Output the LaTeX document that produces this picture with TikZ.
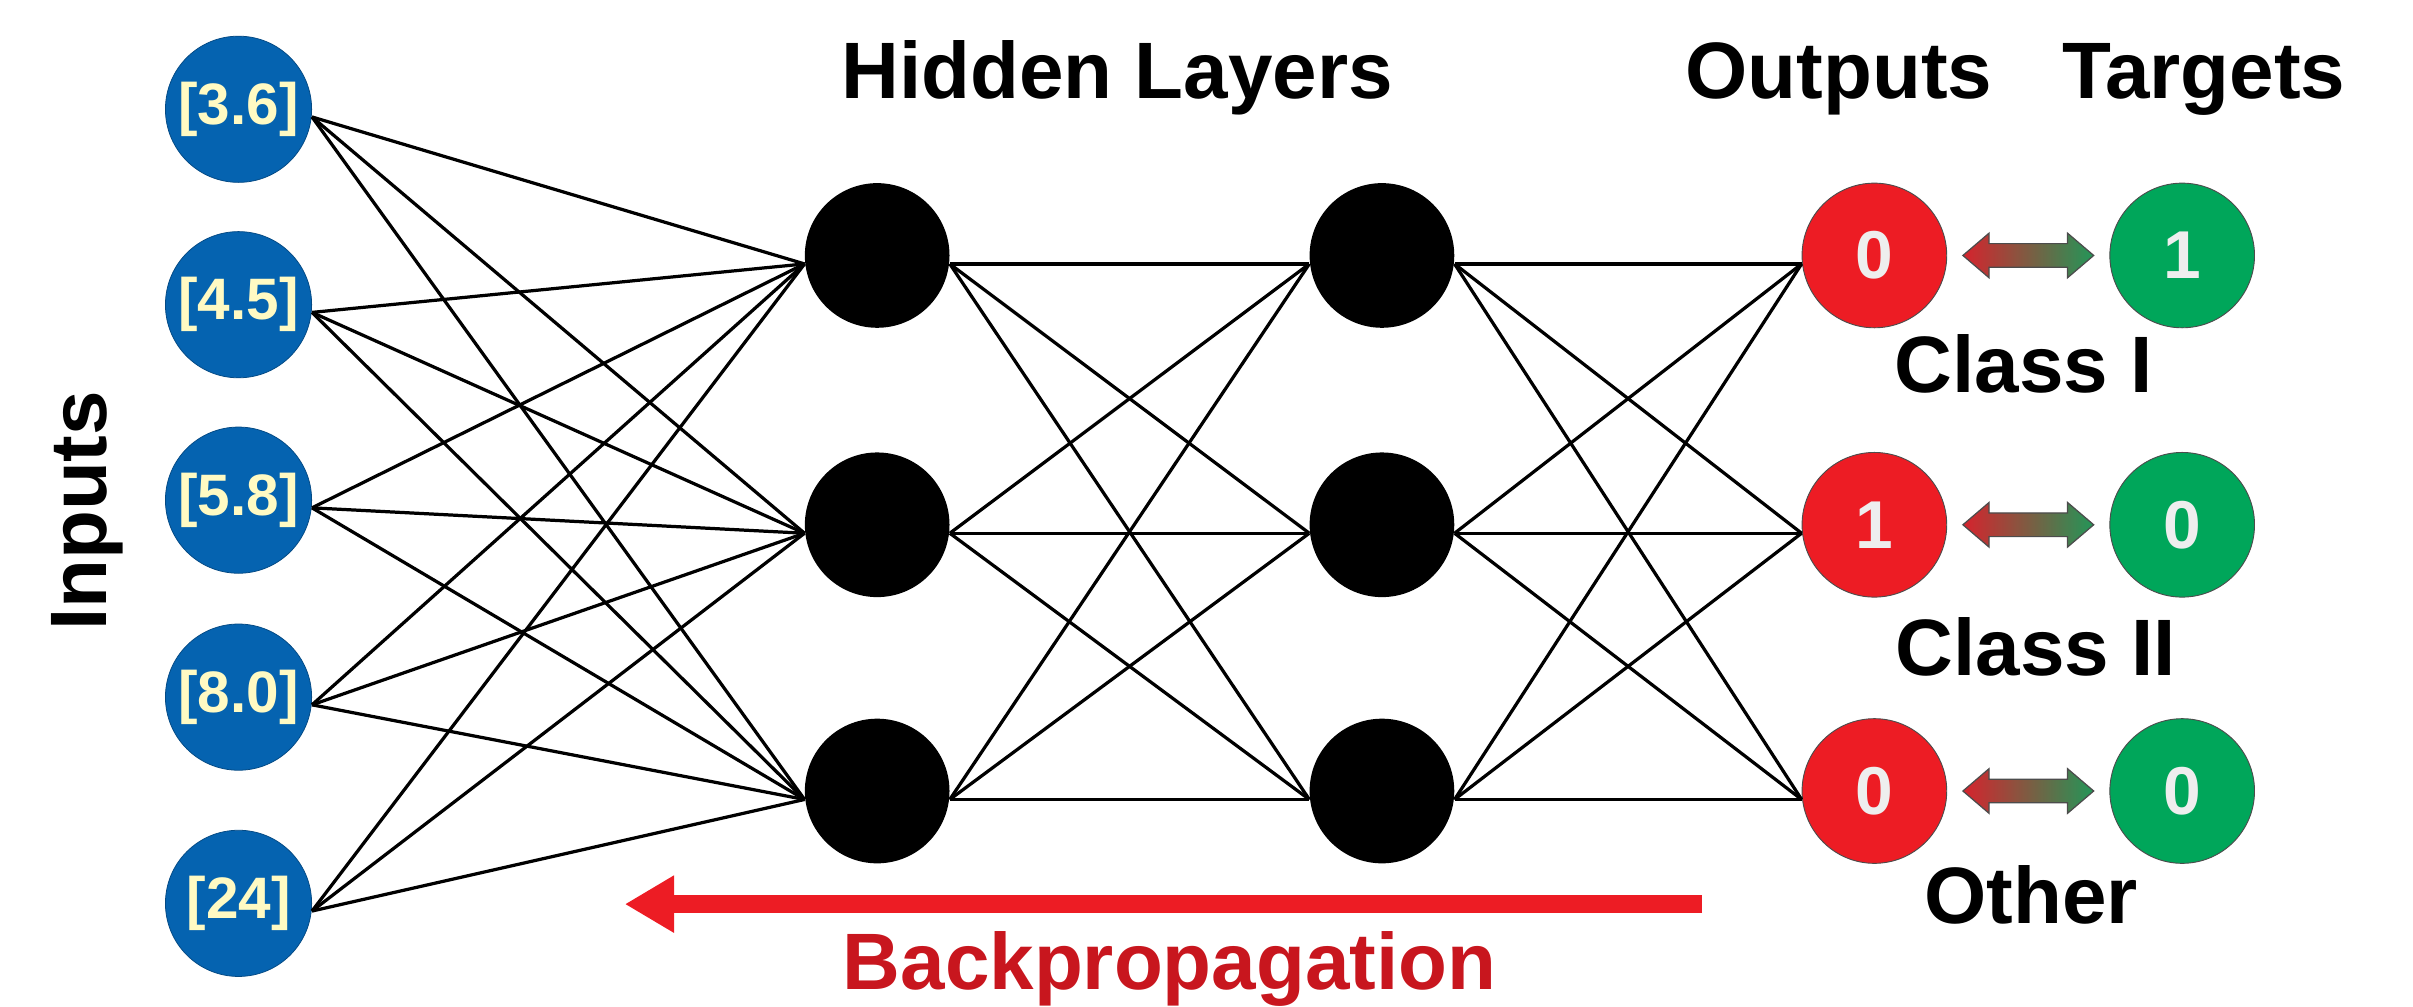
\documentclass[tikz,border=0pt]{standalone}
\usepackage{fontspec}
\setmainfont{Liberation Sans}
\usetikzlibrary{arrows.meta}
\definecolor{inblue}{RGB}{5,99,176}
\definecolor{cream}{RGB}{255,250,195}
\definecolor{outred}{RGB}{237,28,36}
\definecolor{tgreen}{RGB}{0,166,90}
\definecolor{bpred}{RGB}{200,22,30}
\definecolor{arrred}{RGB}{214,35,45}
\definecolor{arrgreen}{RGB}{35,150,88}
\definecolor{digitwhite}{RGB}{238,238,238}
\begin{document}
\begin{tikzpicture}[x=1pt,y=-1pt,
  inputnode/.style={circle, fill=inblue, draw=inblue!75!black, line width=0.5pt, minimum size=95pt, inner sep=0pt, text=cream, font=\fontsize{38}{40}\selectfont\bfseries},
  hidnode/.style={circle, fill=black, minimum size=94pt, inner sep=0pt},
  outnode/.style={circle, fill=outred, draw=black!70, line width=0.6pt, minimum size=94pt, inner sep=0pt, text=digitwhite, font=\fontsize{44}{46}\selectfont\bfseries},
  tgtnode/.style={circle, fill=tgreen, draw=black!70, line width=0.6pt, minimum size=94pt, inner sep=0pt, text=digitwhite, font=\fontsize{44}{46}\selectfont\bfseries},
  link/.style={line width=2.1pt, black},
  heading/.style={font=\fontsize{52}{60}\selectfont\bfseries, anchor=base, inner sep=0pt},
  darrowpath/.style={draw=black!70, line width=0.8pt, left color=arrred, right color=arrgreen}
]
\useasboundingbox (0,0) rectangle (1568,654);

% input nodes
\node[inputnode] (i1) at (155,71) {[3.6]};
\node[inputnode] (i2) at (155,198) {[4.5]};
\node[inputnode] (i3) at (155,325) {[5.8]};
\node[inputnode] (i4) at (155,453) {[8.0]};
\node[inputnode] (i5) at (155,587) {[24]};

% hidden layers
\node[hidnode] (ha1) at (570,166) {};
\node[hidnode] (ha2) at (570,341) {};
\node[hidnode] (ha3) at (570,514) {};
\node[hidnode] (hb1) at (898,166) {};
\node[hidnode] (hb2) at (898,341) {};
\node[hidnode] (hb3) at (898,514) {};

% outputs and targets
\node[outnode] (o1) at (1218,166) {0};
\node[outnode] (o2) at (1218,341) {1};
\node[outnode] (o3) at (1218,514) {0};
\node[tgtnode] (t1) at (1418,166) {1};
\node[tgtnode] (t2) at (1418,341) {0};
\node[tgtnode] (t3) at (1418,514) {0};

% connections (attach slightly below the centre line, as in the reference)
\foreach \i in {1,...,5}{
  \foreach \j in {1,2,3}{
    \draw[link] ([yshift=-5pt]i\i.east) -- ([yshift=-5.5pt]ha\j.west);
  }
}
\foreach \i in {1,2,3}{
  \foreach \j in {1,2,3}{
    \draw[link] ([yshift=-5.5pt]ha\i.east) -- ([yshift=-5.5pt]hb\j.west);
    \draw[link] ([yshift=-5.5pt]hb\i.east) -- ([yshift=-5.5pt]o\j.west);
  }
}

% comparison double arrows (output <-> target)
\foreach \k in {1,2,3}{
  \path (o\k) -- (t\k) coordinate[midway] (m\k);
  \path[darrowpath, shift={(m\k)}]
    (-42.5,0) -- (-25.5,-14.5) -- (-25.5,-7.7) -- (25.5,-7.7) -- (25.5,-14.5)
    -- (42.5,0) -- (25.5,14.5) -- (25.5,7.7) -- (-25.5,7.7) -- (-25.5,14.5) -- cycle;
}

% labels
\node[heading] (hl) at (726,64) {Hidden Layers};
\node[heading] (ol) at (1195,64) {Outputs};
\node[heading] (tl) at (1432,64) {Targets};
\node[heading] (c1) at (1315,255) {Class I};
\node[heading] (c2) at (1323,439) {Class II};
\node[heading] (c3) at (1320,600) {Other};
\node[heading, rotate=90] (inl) at (69,332) {Inputs};

% backpropagation
\coordinate (bps) at (1106,587.5);
\coordinate (bpe) at (406,587.5);
\draw[line width=12pt, outred, -{Triangle[length=32pt,width=35pt]}] (bps) -- (bpe);
\node[heading, text=bpred] (bpl) at (760,643) {Backpropagation};
\end{tikzpicture}
\end{document}
